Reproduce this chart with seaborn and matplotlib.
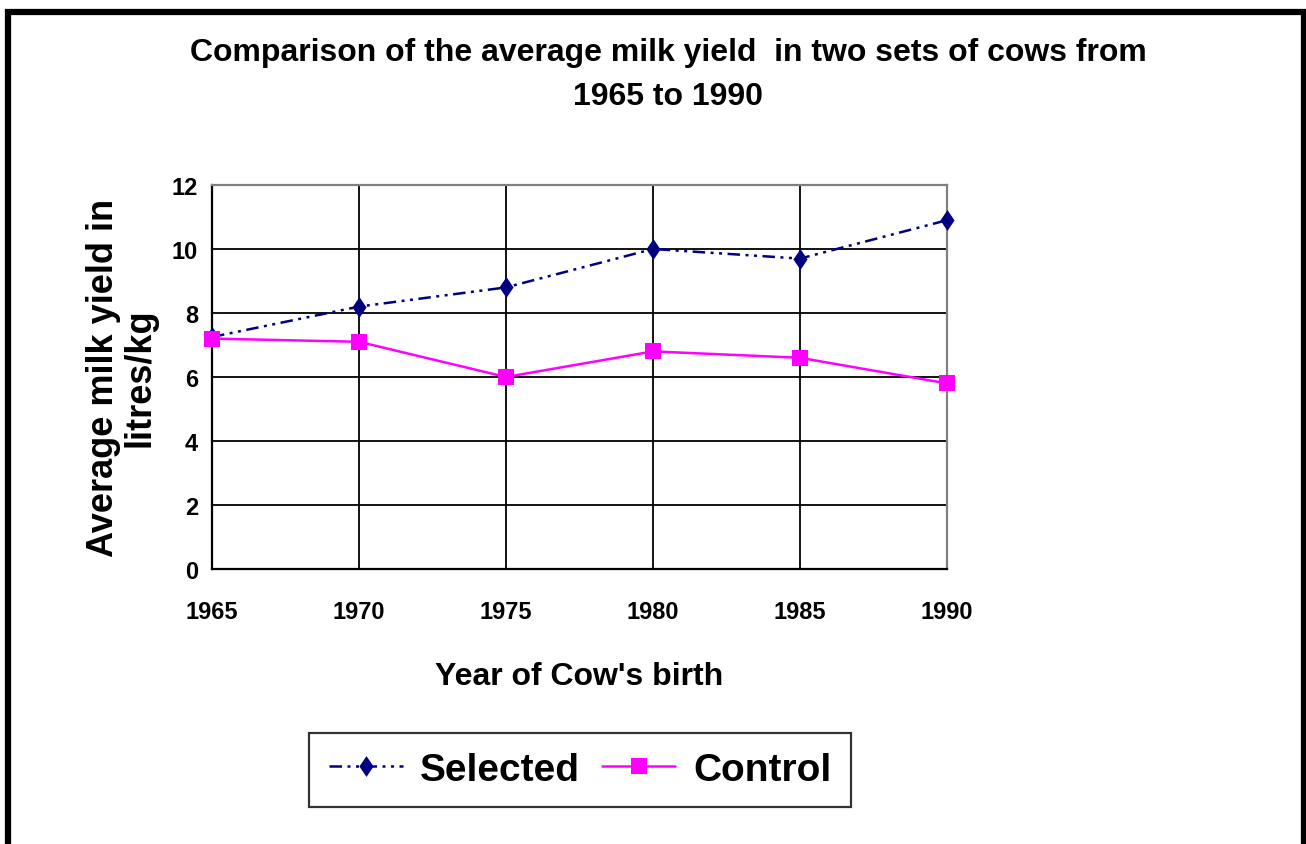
"""
Average milk yield of selected vs control cows, 1965-1990.
"""
import matplotlib
matplotlib.use("Agg")
import matplotlib.pyplot as plt
from matplotlib import font_manager
from matplotlib.patches import Rectangle
from matplotlib.path import Path
import pandas as pd
import seaborn as sns

# --- data ---
years = [1965, 1970, 1975, 1980, 1985, 1990]
selected = [7.25, 8.2, 8.8, 10.0, 9.7, 10.9]
control = [7.2, 7.1, 6.0, 6.8, 6.6, 5.8]
series_names = ["Selected", "Control"]
y_ticks = [0, 2, 4, 6, 8, 10, 12]

df = pd.DataFrame({
    "year": years * 2,
    "yield": selected + control,
    "group": [series_names[0]] * len(years) + [series_names[1]] * len(years),
})

sns.set_style("white")
installed = {f.name for f in font_manager.fontManager.ttflist}
narrow = "Liberation Sans Narrow" if "Liberation Sans Narrow" in installed else "Liberation Sans"
plt.rcParams["font.family"] = [narrow, "DejaVu Sans"]
plt.rcParams["font.weight"] = "bold"
for key in ["text.color", "axes.labelcolor", "xtick.color", "ytick.color"]:
    plt.rcParams[key] = "black"

fig = plt.figure(figsize=(13.06, 8.45), dpi=100)
ax = fig.add_axes([212 / 1306, 1 - 570 / 845, (947 - 212) / 1306, (570 - 186) / 845])

# Excel-like diamond: wider than matplotlib's thin diamond
diamond = Path([(0, 1), (0.68, 0), (0, -1), (-0.68, 0), (0, 1)],
               [Path.MOVETO, Path.LINETO, Path.LINETO, Path.LINETO, Path.CLOSEPOLY])

palette = {"Selected": "#000080", "Control": "#FF00FF"}
sns.lineplot(
    data=df, x="year", y="yield", hue="group", style="group",
    palette=palette,
    markers={"Selected": diamond, "Control": "s"},
    dashes={"Selected": (5, 2.2, 1.2, 2.2, 1.2, 2.2), "Control": ""},
    markersize=11, markeredgewidth=0, linewidth=1.8,
    ax=ax, legend=False,
)
lines = ax.get_lines()[:2]
lines[0].set_markersize(15)
lines[1].set_markersize(11)
for ln in lines:
    ln.set_clip_on(False)
    ln.set_zorder(5)

ax.set_xlim(years[0], years[-1])
ax.set_ylim(0, 12)
ax.set_xticks(years)
ax.set_yticks(y_ticks)
ax.grid(True, color="black", linewidth=1.3)
ax.set_axisbelow(True)
for side in ["left", "bottom"]:
    ax.spines[side].set_color("black")
    ax.spines[side].set_linewidth(1.6)
for side in ["top", "right"]:
    ax.spines[side].set_color("#808080")
    ax.spines[side].set_linewidth(1.6)
ax.tick_params(axis="x", direction="out", length=8, width=1.3, pad=14, labelsize=17)
ax.tick_params(axis="y", direction="out", length=6, width=1.3, pad=4, labelsize=17)
for lab in ax.get_xticklabels() + ax.get_yticklabels():
    lab.set_fontweight("bold")

ax.set_xlabel("Year of Cow's birth", fontsize=23, fontweight="bold", labelpad=28)
ax.set_ylabel("Average milk yield in\nlitres/kg", fontsize=26, fontweight="bold",
              labelpad=10, linespacing=1.05)

fig.text(668 / 1306, 1 - 75 / 845,
         "Comparison of the average milk yield  in two sets of cows from\n1965 to 1990",
         ha="center", va="center", fontsize=23, fontweight="bold", linespacing=1.65)

# legend below the chart
leg = fig.legend(lines, series_names, loc="center",
                 bbox_to_anchor=(580 / 1306, 1 - 771 / 845), ncol=2,
                 fontsize=28, frameon=True, fancybox=False, edgecolor="black",
                 handlelength=1.9, columnspacing=0.55, handletextpad=0.45,
                 borderpad=0.5, borderaxespad=0)
leg.get_frame().set_linewidth(1.6)
for t in leg.get_texts():
    t.set_fontweight("bold")

# thick outer border (bottom edge falls outside the image)
fig.patches.append(Rectangle((8 / 1306, -0.05), 1295.5 / 1306, 1.05 - 12.5 / 845,
                             transform=fig.transFigure, fill=False,
                             edgecolor="black", linewidth=4.5))

fig.savefig("out.png", dpi=100, facecolor="white")
